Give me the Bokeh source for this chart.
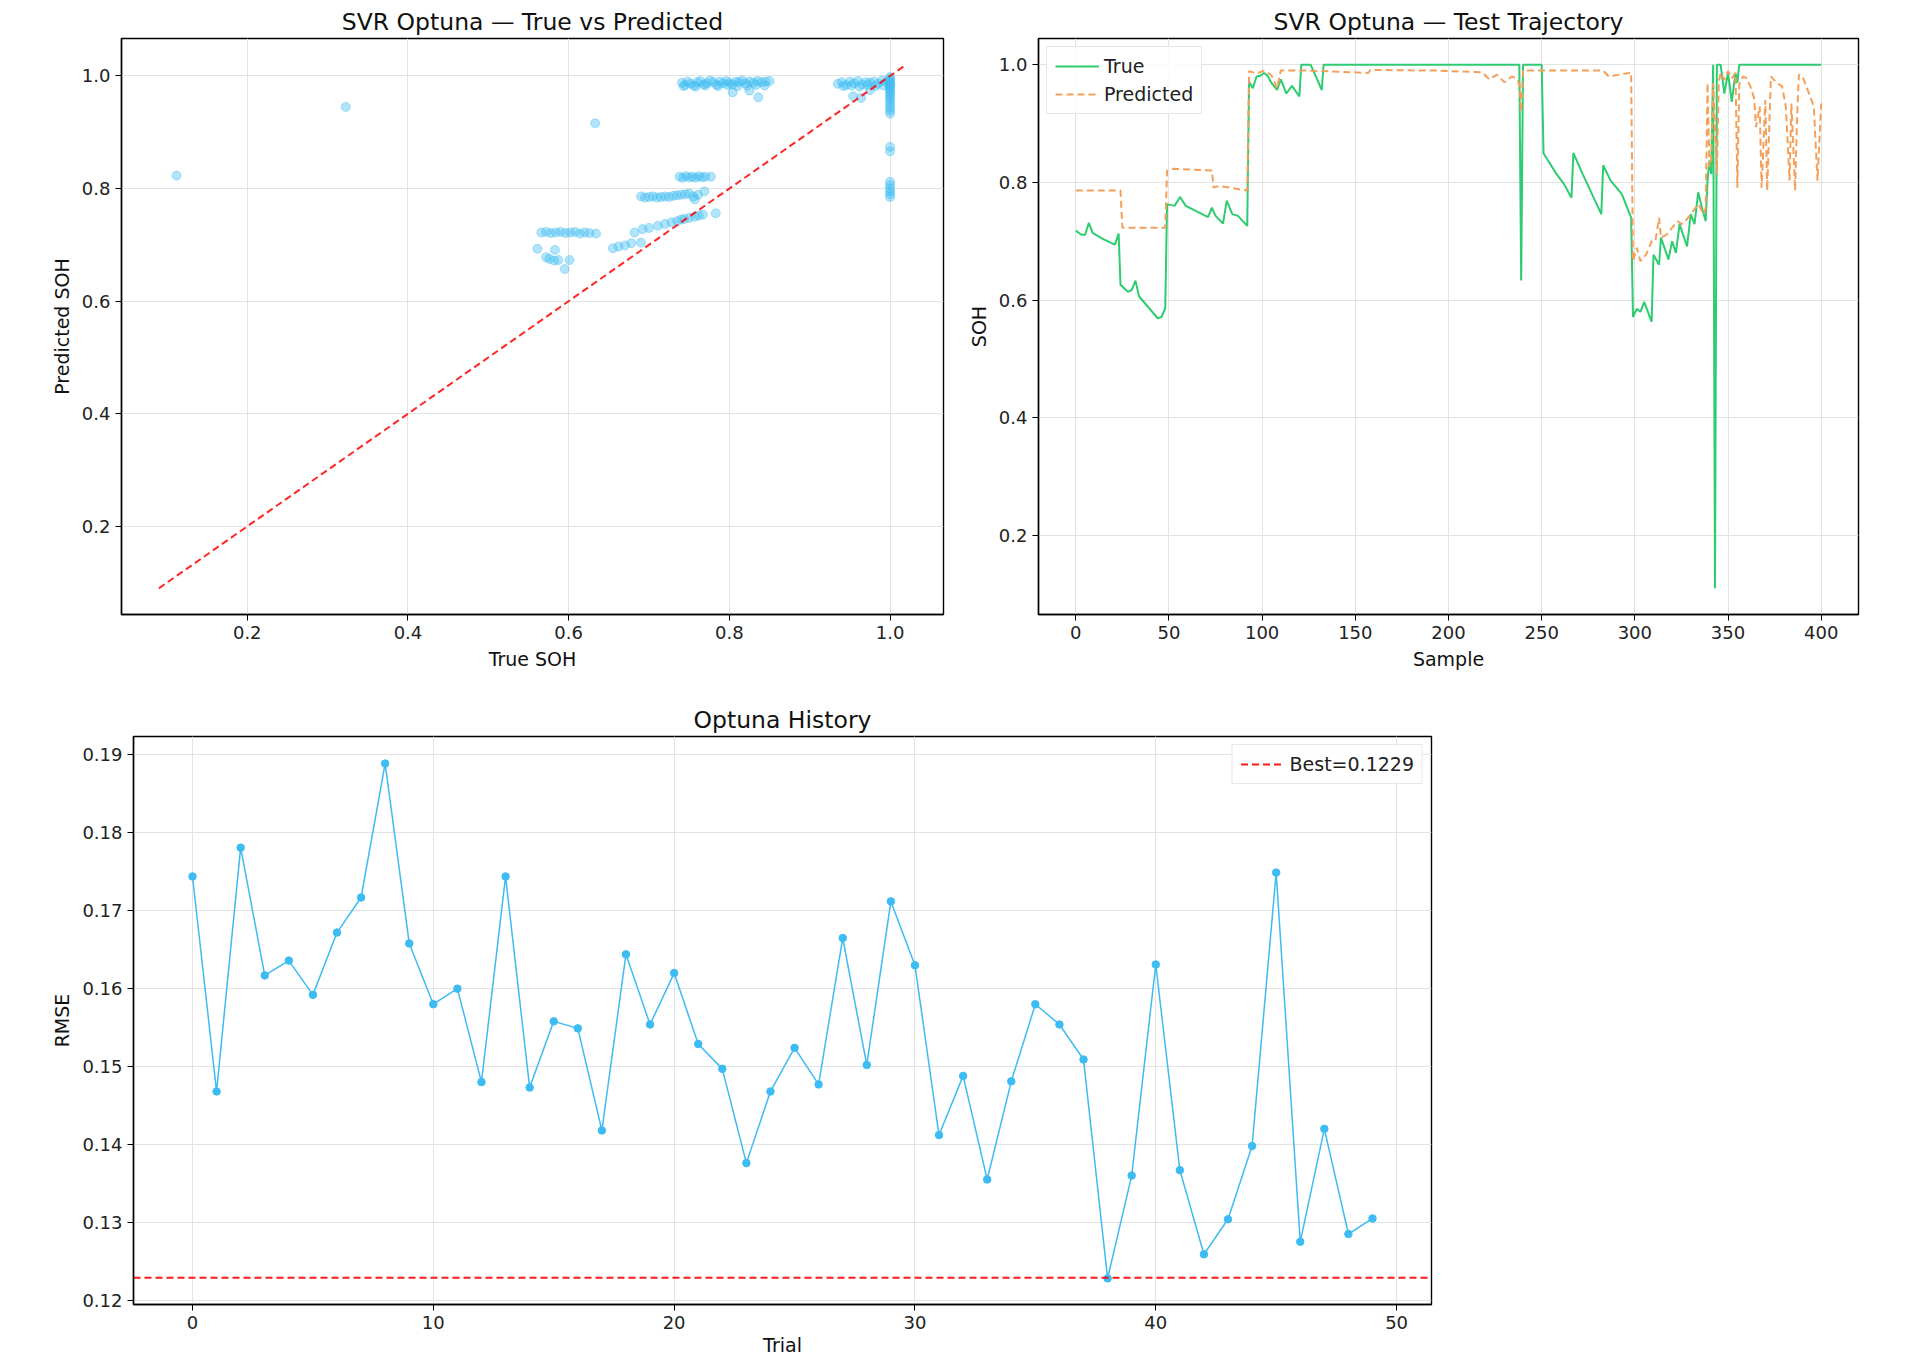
from bokeh.plotting import figure
from bokeh.layouts import column, row
from bokeh.models import FixedTicker, Range1d, NumeralTickFormatter
from bokeh.embed import file_html
from bokeh.resources import INLINE

# --- scatter: true vs predicted SOH ---
true_pts = [0.112, 0.3226, 0.633,
            0.741, 0.745, 0.748, 0.752, 0.756, 0.760, 0.764, 0.768, 0.772, 0.776, 0.780, 0.784, 0.788, 0.792,
            0.796, 0.800, 0.804, 0.808, 0.812, 0.816, 0.820, 0.825, 0.830, 0.835, 0.840, 0.845, 0.850,
            0.743, 0.758, 0.770, 0.786, 0.798, 0.810, 0.822, 0.833, 0.844,
            0.804, 0.825, 0.836,
            0.935, 0.940, 0.945, 0.950, 0.955, 0.960, 0.965, 0.970, 0.975, 0.980, 0.985, 0.990, 0.995,
            0.942, 0.952, 0.962, 0.972, 0.982, 0.992,
            0.954, 0.964, 0.975,
            1.0, 1.0, 1.0, 1.0, 1.0, 1.0, 1.0, 1.0, 1.0, 1.0, 1.0, 1.0, 1.0, 1.0, 1.0, 1.0, 1.0, 1.0,
            1.0, 1.0, 1.0, 1.0, 1.0, 1.0, 1.0, 1.0,
            0.738, 0.742, 0.746, 0.750, 0.754, 0.758, 0.762, 0.766, 0.770, 0.777,
            0.690, 0.695, 0.700, 0.705, 0.710, 0.715, 0.720, 0.725, 0.730, 0.735, 0.740, 0.745, 0.750, 0.755,
            0.761, 0.769, 0.757,
            0.655, 0.662, 0.670, 0.678, 0.682, 0.690, 0.692, 0.700, 0.711, 0.720, 0.728, 0.735, 0.740, 0.744,
            0.750, 0.757, 0.762, 0.767, 0.783,
            0.566, 0.572, 0.578, 0.584, 0.590, 0.596, 0.602, 0.608, 0.614, 0.620, 0.626, 0.634,
            0.561, 0.572, 0.576, 0.583, 0.582, 0.587, 0.601, 0.595]
pred_pts = [0.823, 0.945, 0.916,
            0.988, 0.984, 0.990, 0.986, 0.983, 0.989, 0.991, 0.985, 0.987, 0.992, 0.989, 0.984, 0.990, 0.987,
            0.991, 0.988, 0.985, 0.990, 0.989, 0.992, 0.987, 0.990, 0.988, 0.991, 0.989, 0.990, 0.991,
            0.982, 0.981, 0.983, 0.982, 0.984, 0.982, 0.983, 0.984, 0.983,
            0.971, 0.974, 0.962,
            0.986, 0.989, 0.984, 0.990, 0.987, 0.991, 0.985, 0.989, 0.988, 0.990, 0.986, 0.992, 0.989,
            0.982, 0.983, 0.981, 0.984, 0.982, 0.983,
            0.964, 0.961, 0.975,
            0.998, 0.995, 0.992, 0.989, 0.986, 0.983, 0.980, 0.977, 0.974, 0.970, 0.966, 0.962, 0.958, 0.953,
            0.948, 0.943, 0.938, 0.933,
            0.874, 0.866, 0.812, 0.806, 0.800, 0.795, 0.790, 0.785,
            0.821, 0.819, 0.822, 0.820, 0.821, 0.819, 0.822, 0.820, 0.821, 0.821,
            0.786, 0.784, 0.785, 0.786, 0.784, 0.785, 0.786, 0.785, 0.787, 0.788, 0.789, 0.790, 0.791, 0.786,
            0.789, 0.795, 0.781,
            0.694, 0.697, 0.699, 0.703, 0.722, 0.704, 0.728, 0.730, 0.734, 0.737, 0.740, 0.742, 0.745, 0.746,
            0.748, 0.750, 0.752, 0.754, 0.756,
            0.722, 0.723, 0.721, 0.722, 0.723, 0.721, 0.722, 0.723, 0.720, 0.722, 0.721, 0.720,
            0.693, 0.678, 0.675, 0.691, 0.672, 0.673, 0.673, 0.657]
diag_lims = [0.09, 1.02]

# --- test trajectory (sample index, SOH) ---
true_x = [0, 3, 5, 7, 9, 15, 21, 23, 24, 28, 30, 32, 34, 44, 46, 48, 49, 53, 56, 59, 71, 73, 75, 79, 81,
          84, 87, 92, 93, 95, 97, 99, 101, 103, 105, 108, 110, 113, 116, 120, 121, 126, 128, 132, 133,
          238, 239, 240, 250, 251, 255, 258, 262, 266, 267, 272, 282, 283, 287, 293, 298, 299, 301, 303,
          305, 307, 309, 310, 313, 314, 318, 320, 322, 324, 328, 330, 332, 334, 336, 338, 339, 340, 341,
          342, 343, 344, 346, 348, 350, 352, 354, 355, 356, 400]
true_y = [0.718, 0.711, 0.711, 0.731, 0.714, 0.703, 0.694, 0.713, 0.626, 0.614, 0.617, 0.633, 0.606, 0.569,
          0.571, 0.586, 0.763, 0.760, 0.775, 0.760, 0.741, 0.757, 0.743, 0.730, 0.769, 0.746, 0.743, 0.726,
          0.971, 0.960, 0.980, 0.981, 0.986, 0.981, 0.969, 0.957, 0.975, 0.951, 0.964, 0.946, 1.0, 1.0,
          0.986, 0.957, 1.0, 1.0, 0.633, 1.0, 1.0, 0.849, 0.829, 0.814, 0.797, 0.774, 0.850, 0.814, 0.746,
          0.829, 0.803, 0.780, 0.740, 0.571, 0.585, 0.580, 0.597, 0.580, 0.563, 0.677, 0.660, 0.706, 0.669,
          0.700, 0.680, 0.729, 0.691, 0.746, 0.729, 0.783, 0.757, 0.734, 0.803, 0.837, 0.814, 1.0, 0.11,
          1.0, 1.0, 0.951, 0.986, 0.937, 0.986, 0.969, 1.0, 1.0]
pred_x = [0, 24, 25, 48, 49, 52, 73, 74, 77, 92, 93, 97, 101, 105, 108, 110, 125, 157, 158, 193, 218, 222,
          226, 230, 234, 237, 238, 239, 240, 241, 283, 286, 297, 298, 299, 301, 303, 306, 309, 311, 313,
          314, 317, 320, 323, 325, 327, 330, 334, 337, 338, 339, 340, 341, 342, 344, 345, 346, 348, 350,
          352, 354, 355, 356, 358, 360, 362, 364, 365, 367, 368, 370, 371, 373, 376, 379, 381, 383, 384,
          386, 387, 388, 390, 394, 396, 398, 400]
pred_y = [0.786, 0.786, 0.723, 0.723, 0.820, 0.823, 0.820, 0.791, 0.794, 0.786, 0.989, 0.985, 0.990, 0.982,
          0.960, 0.990, 0.990, 0.986, 0.991, 0.990, 0.987, 0.975, 0.983, 0.970, 0.980, 0.975, 0.966, 0.920,
          0.990, 0.990, 0.990, 0.980, 0.986, 0.987, 0.666, 0.689, 0.666, 0.677, 0.700, 0.700, 0.740, 0.706,
          0.711, 0.723, 0.734, 0.729, 0.734, 0.746, 0.763, 0.746, 0.757, 0.969, 0.826, 0.837, 0.969, 0.814,
          0.969, 0.986, 0.974, 0.989, 0.977, 0.986, 0.791, 0.966, 0.980, 0.977, 0.963, 0.943, 0.894, 0.929,
          0.791, 0.940, 0.786, 0.980, 0.969, 0.963, 0.929, 0.803, 0.934, 0.786, 0.906, 0.983, 0.980, 0.946,
          0.929, 0.803, 0.934]

# --- optuna history ---
trials = list(range(50))
rmse = [0.1744, 0.1468, 0.1781, 0.1617, 0.1636, 0.1592, 0.1672, 0.1717, 0.1889, 0.1658,
        0.1580, 0.1600, 0.1480, 0.1744, 0.1473, 0.1558, 0.1549, 0.1418, 0.1644, 0.1554,
        0.1620, 0.1529, 0.1497, 0.1376, 0.1468, 0.1524, 0.1477, 0.1665, 0.1502, 0.1712,
        0.1630, 0.1412, 0.1488, 0.1355, 0.1481, 0.1580, 0.1554, 0.1509, 0.1228, 0.1360,
        0.1631, 0.1367, 0.1259, 0.1304, 0.1398, 0.1749, 0.1275, 0.1420, 0.1285, 0.1305]
best_rmse = 0.1229
trial_lo, trial_hi = -2.45, 51.45

FONT = "DejaVu Sans"
BLUE = "#3dbbf3"


def style(p):
    p.title.text_font = FONT
    p.title.text_font_size = "23.5px"
    p.title.text_font_style = "normal"
    p.title.text_color = "#111111"
    p.title.align = "center"
    p.title.standoff = 6
    p.outline_line_color = "black"
    p.outline_line_width = 1.4
    p.outline_line_alpha = 1.0
    for ax in p.axis:
        ax.axis_label_text_font = FONT
        ax.axis_label_text_font_size = "19px"
        ax.axis_label_text_font_style = "normal"
        ax.axis_label_text_color = "#111111"
        ax.axis_label_standoff = 6
        ax.major_label_text_font = FONT
        ax.major_label_text_font_size = "18px"
        ax.major_label_text_color = "#222222"
        ax.major_label_standoff = 5
        ax.axis_line_color = "black"
        ax.axis_line_width = 1.4
        ax.major_tick_out = 6
        ax.major_tick_in = 0
        ax.major_tick_line_color = "black"
        ax.minor_tick_line_color = None
    for g in p.grid:
        g.grid_line_color = "#e3e3e3"
        g.grid_line_width = 1


def style_legend(p, location):
    p.legend.location = location
    p.legend.label_text_font = FONT
    p.legend.label_text_font_size = "19px"
    p.legend.label_text_color = "#222222"
    p.legend.border_line_color = "#d0d0d0"
    p.legend.background_fill_alpha = 0.85
    p.legend.glyph_width = 44
    p.legend.spacing = 6
    p.legend.padding = 8
    p.legend.margin = 8


# scatter
p1 = figure(title="SVR Optuna — True vs Predicted", output_backend="svg", toolbar_location=None,
            frame_width=822, frame_height=576, min_border_left=121, min_border_right=15,
            min_border_top=38, min_border_bottom=66,
            x_range=Range1d(0.0435, 1.0665), y_range=Range1d(0.0435, 1.0665),
            x_axis_label="True SOH", y_axis_label="Predicted SOH")
p1.scatter(true_pts, pred_pts, size=9, fill_color=BLUE, line_color=BLUE, fill_alpha=0.4, line_alpha=0.4)
p1.line(diag_lims, diag_lims, line_color="red", line_dash="7 4", line_width=2, line_alpha=0.85)
p1.xaxis.ticker = FixedTicker(ticks=[0.2, 0.4, 0.6, 0.8, 1.0])
p1.yaxis.ticker = FixedTicker(ticks=[0.2, 0.4, 0.6, 0.8, 1.0])
p1.xaxis.formatter = NumeralTickFormatter(format="0.0")
p1.yaxis.formatter = NumeralTickFormatter(format="0.0")
style(p1)

# trajectory
p2 = figure(title="SVR Optuna — Test Trajectory", output_backend="svg", toolbar_location=None,
            frame_width=820, frame_height=576, min_border_left=80, min_border_right=30,
            min_border_top=38, min_border_bottom=66,
            x_range=Range1d(-20, 420), y_range=Range1d(0.0655, 1.0445),
            x_axis_label="Sample", y_axis_label="SOH")
p2.line(true_x, true_y, line_color="#2ecc71", line_width=2, legend_label="True")
p2.line(pred_x, pred_y, line_color="#f5a05a", line_width=2, line_dash="7 4", legend_label="Predicted")
p2.xaxis.ticker = FixedTicker(ticks=[0, 50, 100, 150, 200, 250, 300, 350, 400])
p2.yaxis.ticker = FixedTicker(ticks=[0.2, 0.4, 0.6, 0.8, 1.0])
p2.yaxis.formatter = NumeralTickFormatter(format="0.0")
style(p2)
style_legend(p2, "top_left")

# optuna history
p3 = figure(title="Optuna History", output_backend="svg", toolbar_location=None,
            frame_width=1298, frame_height=568, min_border_left=133, min_border_right=10,
            min_border_top=56, min_border_bottom=56,
            x_range=Range1d(trial_lo, trial_hi), y_range=Range1d(0.11945, 0.19237),
            x_axis_label="Trial", y_axis_label="RMSE")
p3.line(trials, rmse, line_color=BLUE, line_width=1.5)
p3.scatter(trials, rmse, size=7.5, fill_color=BLUE, line_color=BLUE)
p3.line([trial_lo, trial_hi], [best_rmse, best_rmse], line_color="red", line_dash="7 4", line_width=2,
        line_alpha=0.9, legend_label=f"Best={best_rmse}")
p3.xaxis.ticker = FixedTicker(ticks=[0, 10, 20, 30, 40, 50])
p3.yaxis.ticker = FixedTicker(ticks=[0.12, 0.13, 0.14, 0.15, 0.16, 0.17, 0.18, 0.19])
p3.yaxis.formatter = NumeralTickFormatter(format="0.00")
style(p3)
p3.xaxis.axis_label_standoff = 2
style_legend(p3, "top_right")

layout = column(row(p1, p2), p3)
open("out.html", "w").write(file_html(layout, INLINE))
